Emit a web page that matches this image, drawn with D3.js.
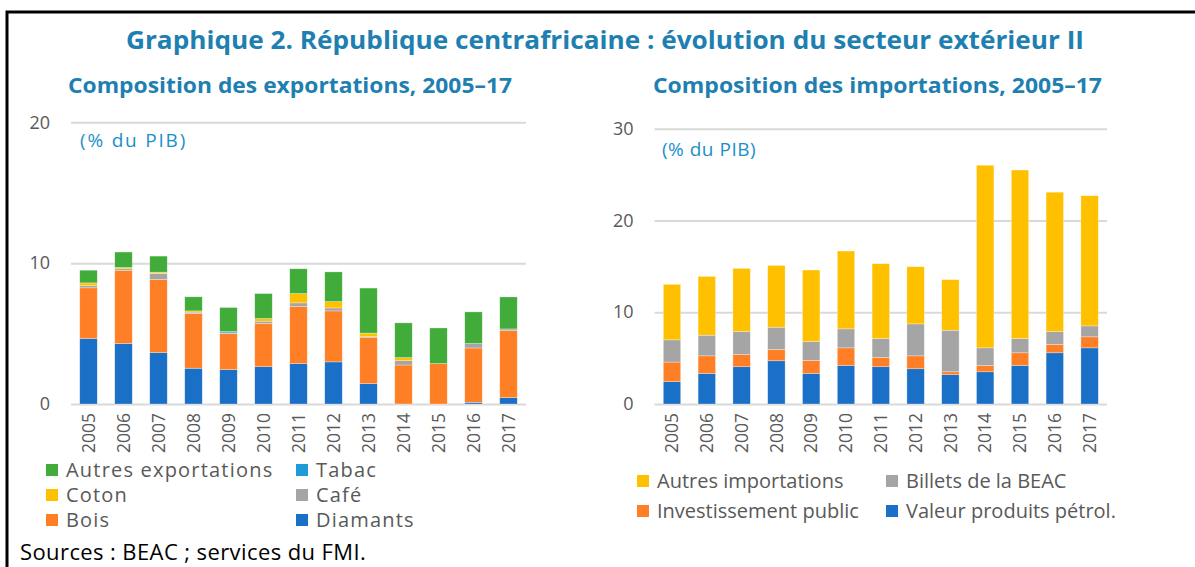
<!DOCTYPE html>
<html>
<head>
<meta charset="utf-8">
<script src="https://cdn.jsdelivr.net/npm/d3@7"></script>
<style>
  body { margin: 0; background: #fff; }
  text { font-family: "Open Sans", "Noto Sans", sans-serif; }
</style>
</head>
<body>
<div id="plot"></div>
<script>
// data (% du PIB)
var years = ["2005","2006","2007","2008","2009","2010","2011","2012","2013","2014","2015","2016","2017"];

var diamants = [4.65, 4.29, 3.65, 2.54, 2.44, 2.65, 2.87, 2.99, 1.45, 0, 0, 0.12, 0.45];
var bois     = [3.60, 5.19, 5.19, 3.88, 2.56, 3.06, 4.05, 3.62, 3.29, 2.77, 2.87, 3.86, 4.76];
var cafe     = [0.15, 0.12, 0.43, 0.10, 0.05, 0.17, 0.26, 0.21, 0.05, 0.31, 0, 0.31, 0.12];
var coton    = [0.20, 0.09, 0.09, 0.09, 0, 0.19, 0.66, 0.45, 0.24, 0.21, 0, 0, 0];
var tabac    = [0, 0, 0, 0, 0.10, 0, 0, 0, 0, 0, 0, 0, 0];
var autresExp = [0.90, 1.10, 1.14, 1.00, 1.70, 1.77, 1.76, 2.11, 3.20, 2.47, 2.53, 2.25, 2.27];

var petrol    = [2.43, 3.33, 4.06, 4.71, 3.33, 4.20, 4.06, 3.84, 3.19, 3.51, 4.20, 5.58, 6.12];
var invest    = [2.14, 1.92, 1.34, 1.23, 1.42, 1.92, 1.01, 1.41, 0.32, 0.69, 1.38, 0.91, 1.20];
var billets   = [2.42, 2.25, 2.50, 2.43, 2.06, 2.07, 2.07, 3.48, 4.53, 1.92, 1.56, 1.41, 1.19];
var autresImp = [6.05, 6.40, 6.88, 6.73, 7.79, 8.48, 8.15, 6.23, 5.51, 19.90, 18.36, 15.18, 14.19];

var expTicks = [0, 10, 20];
var impTicks = [0, 10, 20, 30];

var expSeries = [
  {name: "Diamants", values: diamants, color: "#1A6FC6"},
  {name: "Bois", values: bois, color: "#FF7F27"},
  {name: "Café", values: cafe, color: "#A5A5A5"},
  {name: "Coton", values: coton, color: "#FFC000"},
  {name: "Tabac", values: tabac, color: "#1F9BD7"},
  {name: "Autres exportations", values: autresExp, color: "#42AC3A"}
];
var impSeries = [
  {name: "Valeur produits pétrol.", values: petrol, color: "#1A6FC6"},
  {name: "Investissement public", values: invest, color: "#FF7F27"},
  {name: "Billets de la BEAC", values: billets, color: "#A5A5A5"},
  {name: "Autres importations", values: autresImp, color: "#FFC000"}
];

var titleColor = "#1E7FB0";
var gray = "#595959";

var svg = d3.select("#plot").append("svg")
  .attr("width", 1195)
  .attr("height", 567);

// frame (only top and left edges visible)
svg.append("path")
  .attr("d", "M7,567V12H1195")
  .attr("fill", "none")
  .attr("stroke", "#000")
  .attr("stroke-width", 3);

svg.append("text")
  .attr("x", 605).attr("y", 49)
  .attr("text-anchor", "middle")
  .attr("font-size", 25).attr("font-weight", 700)
  .attr("fill", titleColor)
  .attr("textLength", 958).attr("lengthAdjust", "spacingAndGlyphs")
  .text("Graphique 2. République centrafricaine : évolution du secteur extérieur II");

function panel(opts) {
  var g = svg.append("g");

  g.append("text")
    .attr("x", opts.titleX).attr("y", 93)
    .attr("font-size", 21).attr("font-weight", 700)
    .attr("fill", titleColor)
    .attr("textLength", opts.titleW).attr("lengthAdjust", "spacingAndGlyphs")
    .text(opts.title);

  var x = d3.scaleBand()
    .domain(years)
    .range(opts.xRange)
    .paddingInner(0.5)
    .paddingOuter(0.25);

  var y = d3.scaleLinear()
    .domain(opts.yDomain)
    .range([404, opts.yTop]);

  // gridlines + tick labels
  var yAxis = g.append("g")
    .attr("transform", "translate(" + opts.xRange[0] + ",0)")
    .call(d3.axisLeft(y).tickValues(opts.ticks).tickSize(-(opts.xRange[1] - opts.xRange[0])).tickPadding(21));
  yAxis.select(".domain").remove();
  yAxis.selectAll("line").attr("stroke", "#D9D9D9").attr("stroke-width", 2);
  yAxis.selectAll("text")
    .attr("font-size", 18).attr("fill", gray)
    .style("font-family", "'Open Sans', sans-serif");

  g.append("text")
    .attr("x", opts.unitX).attr("y", opts.unitY)
    .attr("font-size", 19).attr("fill", "#1B8FC9")
    .attr("letter-spacing", opts.unitSpacing)
    .text("(% du PIB)");

  var keys = opts.series.map(function(s) { return s.name; });
  var rows = years.map(function(yr, i) {
    var r = {year: yr};
    opts.series.forEach(function(s) { r[s.name] = s.values[i]; });
    return r;
  });
  var stacked = d3.stack().keys(keys)(rows);

  g.append("g")
    .selectAll("g")
    .data(stacked)
    .enter().append("g")
    .attr("fill", function(d, i) { return opts.series[i].color; })
    .selectAll("rect")
    .data(function(d) { return d; })
    .enter().append("rect")
    .attr("x", function(d) { return x(d.data.year); })
    .attr("width", x.bandwidth())
    .attr("y", function(d) { return y(d[1]); })
    .attr("height", function(d) { return Math.max(0, y(d[0]) - y(d[1])); })
    .attr("stroke", "#fff")
    .attr("stroke-opacity", 0.5)
    .attr("stroke-width", 0.6);

  var xAxis = g.append("g")
    .attr("transform", "translate(0,404)")
    .call(d3.axisBottom(x).tickSize(0).tickPadding(0));
  xAxis.select(".domain").remove();
  xAxis.selectAll("text")
    .attr("font-size", 17.5).attr("fill", gray)
    .style("font-family", "'Open Sans', sans-serif")
    .attr("text-anchor", "end")
    .attr("dy", "0.35em")
    .attr("transform", "translate(0,9) rotate(-90)");

  // legend, two columns, row-wise
  var leg = g.append("g");
  opts.legend.forEach(function(name, i) {
    var s = opts.series.find(function(d) { return d.name === name; });
    var col = i % 2, row = Math.floor(i / 2);
    var lx = opts.legX[col], ly = opts.legY[row];
    leg.append("rect")
      .attr("x", lx).attr("y", ly - 6)
      .attr("width", 12).attr("height", 12)
      .attr("fill", s.color);
    leg.append("text")
      .attr("x", lx + 20).attr("y", ly)
      .attr("dy", "0.35em")
      .attr("font-size", 20).attr("fill", gray)
      .attr("letter-spacing", opts.legSpacing)
      .text(name);
  });
}

panel({
  title: "Composition des exportations, 2005–17",
  titleX: 68, titleW: 444,
  xRange: [71, 526],
  yDomain: [0, 20], yTop: 122.3,
  ticks: expTicks,
  unitX: 80, unitY: 147, unitSpacing: 1.8,
  series: expSeries,
  legend: ["Autres exportations", "Tabac", "Coton", "Café", "Bois", "Diamants"],
  legX: [46, 296], legY: [470, 495, 520], legSpacing: 1.2
});

panel({
  title: "Composition des importations, 2005–17",
  titleX: 653, titleW: 449,
  xRange: [654.6, 1107],
  yDomain: [0, 30], yTop: 128.7,
  ticks: impTicks,
  unitX: 662, unitY: 156, unitSpacing: 0.5,
  series: impSeries,
  legend: ["Autres importations", "Billets de la BEAC", "Investissement public", "Valeur produits pétrol."],
  legX: [637, 886], legY: [481, 511], legSpacing: 0
});

svg.append("text")
  .attr("x", 20).attr("y", 560)
  .attr("font-size", 22).attr("fill", "#000")
  .attr("letter-spacing", 0.4)
  .text("Sources : BEAC ; services du FMI.");
</script>
</body>
</html>
